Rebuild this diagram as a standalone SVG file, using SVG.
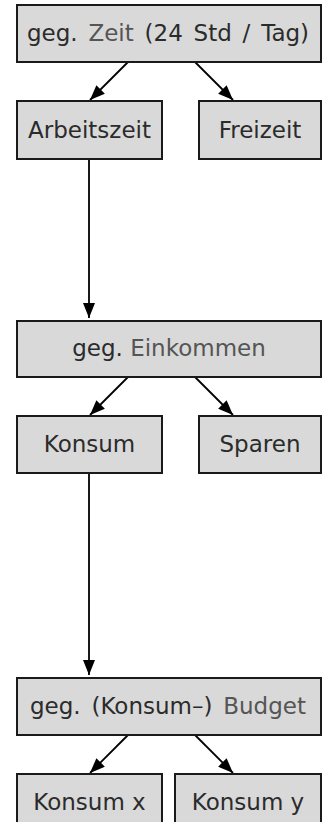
<svg xmlns="http://www.w3.org/2000/svg" width="326" height="822" viewBox="0 0 326 822">
<defs>
<marker id="ah" viewBox="0 0 15 12" refX="15" refY="6" markerWidth="15" markerHeight="12" markerUnits="userSpaceOnUse" orient="auto">
<path d="M0,0 L15,6 L0,12 Z" fill="#000"/>
</marker>
<style>
.box{fill:#d9d9d9;stroke:#1a1a1a;stroke-width:2}
.t{font-family:"DejaVu Sans",Verdana,sans-serif;font-size:23px;fill:#2b2b2b;text-anchor:middle}
.w{word-spacing:3.5px}
.l{fill:#555}
.c{stroke:#000;stroke-width:1.8;fill:none;marker-end:url(#ah)}
</style>
</defs>
<rect width="326" height="822" fill="#fff"/>
<g id="connectors">
<line class="c" x1="128" y1="62" x2="90" y2="100"/>
<line class="c" x1="195" y1="62" x2="233" y2="100"/>
<line class="c" x1="89" y1="159" x2="89" y2="318"/>
<line class="c" x1="128" y1="377" x2="90" y2="415"/>
<line class="c" x1="195" y1="377" x2="233" y2="415"/>
<line class="c" x1="89" y1="473" x2="89" y2="675"/>
<line class="c" x1="128" y1="735" x2="90" y2="773"/>
<line class="c" x1="195" y1="735" x2="233" y2="773"/>
</g>
<g id="zeit"><rect class="box" x="17" y="5" width="304" height="57"/><text class="t w" x="168" y="41">geg. <tspan class="l">Zeit</tspan> (24 Std / Tag)</text></g>
<g id="arbeitszeit"><rect class="box" x="17" y="101" width="145" height="58"/><text class="t" x="89.5" y="138">Arbeitszeit</text></g>
<g id="freizeit"><rect class="box" x="199" y="101" width="122" height="58"/><text class="t" x="260" y="138">Freizeit</text></g>
<g id="einkommen"><rect class="box" x="17" y="321" width="304" height="56"/><text class="t" x="169" y="356">geg. <tspan class="l">Einkommen</tspan></text></g>
<g id="konsum"><rect class="box" x="17" y="416" width="145" height="57"/><text class="t" x="89.5" y="452">Konsum</text></g>
<g id="sparen"><rect class="box" x="199" y="416" width="122" height="57"/><text class="t" x="260" y="452">Sparen</text></g>
<g id="budget"><rect class="box" x="17" y="678" width="304" height="57"/><text class="t w" x="168" y="714">geg. (Konsum–) <tspan class="l">Budget</tspan></text></g>
<g id="konsumx"><rect class="box" x="17" y="774" width="145" height="60"/><text class="t" x="89.5" y="810">Konsum x</text></g>
<g id="konsumy"><rect class="box" x="175" y="774" width="146" height="60"/><text class="t" x="248" y="810">Konsum y</text></g>
</svg>
